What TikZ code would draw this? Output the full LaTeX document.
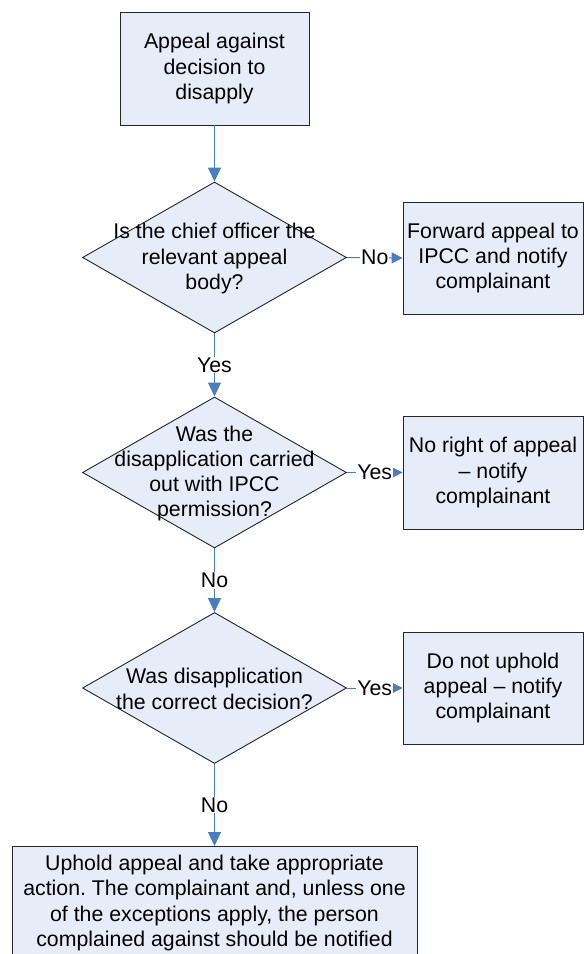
\documentclass[tikz,border=0pt]{standalone}
\usepackage{fontspec}
\setmainfont{Liberation Sans}
\usetikzlibrary{shapes.geometric,arrows.meta}
\definecolor{boxfill}{RGB}{231,237,248}
\definecolor{conn}{RGB}{74,126,187}
\tikzset{
  txt/.style={font=\fontsize{21.3}{25.3}\selectfont\frenchspacing, align=center, inner sep=0pt},
  procbox/.style={draw=black!85, line width=0.9pt, fill=boxfill, inner sep=0pt, txt},
  decbox/.style={diamond, draw=black!85, line width=0.9pt, fill=boxfill, inner sep=0pt, minimum width=264pt, minimum height=151pt},
  flow/.style={draw=conn, line width=1pt, -{Triangle[length=14pt,width=13pt]}},
  hflow/.style={draw=conn, line width=1pt, -{Triangle[length=11pt,width=11pt]}},
  lbl/.style={txt, fill=white, inner sep=1pt}
}
\begin{document}
\begin{tikzpicture}[x=1pt,y=-1pt]
\useasboundingbox (0,0) rectangle (584,954);
\clip (0,0) rectangle (584,954);
\fill[white] (0,0) rectangle (584,954);

\node[procbox, minimum width=189pt, minimum height=113pt] (b1) at (214.5,68.5) {Appeal against\\decision to\\disapply};

\node[decbox] (d1) at (214.5,257.5) {};
\node[txt] (t1) at (214.5,258.5) {Is the chief officer the\\relevant appeal\\body?};
\node[procbox, minimum width=180pt, minimum height=112pt] (b2) at (493,258) {Forward appeal to\\IPCC and notify\\complainant};

\node[decbox] (d2) at (214.5,472.5) {};
\node[txt] (t2) at (214.5,473.5) {Was the\\disapplication carried\\out with IPCC\\permission?};
\node[procbox, minimum width=180pt, minimum height=113pt] (b3) at (493,472.5) {No right of appeal\\\textendash{} notify\\complainant};

\node[decbox] (d3) at (214.5,688) {};
\node[txt] (t3) at (214.5,689) {Was disapplication\\the correct decision?};
\node[procbox, minimum width=180pt, minimum height=112pt] (b4) at (493,688) {Do not uphold\\appeal \textendash{} notify\\complainant};

\node[procbox, minimum width=405pt, minimum height=130pt, anchor=north] (b5) at (214.5,846) {};
\node[txt, anchor=north] (t5) at (214.5,855) {Uphold appeal and take appropriate\\action. The complainant and, unless one\\of the exceptions apply, the person\\complained against should be notified};

\draw[flow] (b1.south) -- (d1.north);
\draw[flow] (d1.south) -- node[lbl] (l1) {Yes} (d2.north);
\draw[hflow] (d1.east) -- node[lbl] (l2) {No} (b2.west);
\draw[flow] (d2.south) -- node[lbl] (l3) {No} (d3.north);
\draw[hflow] (d2.east) -- node[lbl] (l4) {Yes} (b3.west);
\draw[flow] (d3.south) -- node[lbl] (l5) {No} (b5.north);
\draw[hflow] (d3.east) -- node[lbl] (l6) {Yes} (b4.west);
\end{tikzpicture}
\end{document}
